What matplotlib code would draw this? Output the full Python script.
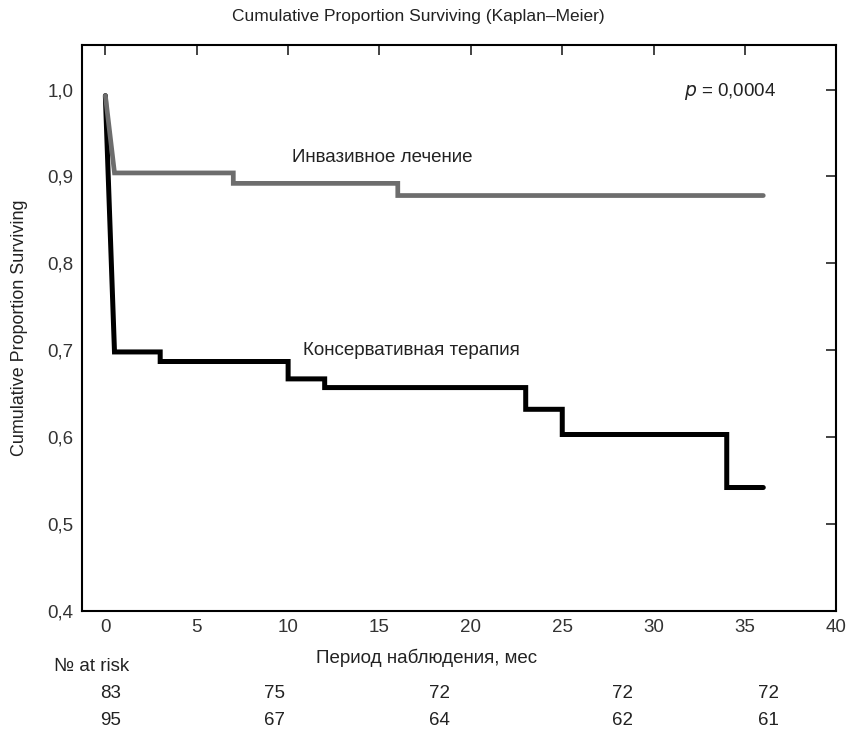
import numpy as np
import matplotlib.pyplot as plt
from matplotlib.ticker import FuncFormatter

plt.rcParams['font.family'] = ['Liberation Sans', 'DejaVu Sans']

# Kaplan-Meier curves (event times, survival after the event)
inv_times = [0, 0.5, 7, 16, 36]
inv_surv = [0.993, 0.904, 0.892, 0.878, 0.878]
cons_times = [0, 0.5, 3, 10, 12, 23, 25, 34, 36]
cons_surv = [0.993, 0.698, 0.687, 0.667, 0.657, 0.632, 0.603, 0.542, 0.542]

# number at risk
risk_times = [0, 9, 18, 28, 36]
risk_inv = [83, 75, 72, 72, 72]
risk_cons = [95, 67, 64, 62, 61]


def km_path(times, surv):
    xs = [times[0], times[1]]
    ys = [surv[0], surv[1]]
    for i in range(2, len(times)):
        xs += [times[i], times[i]]
        ys += [surv[i-1], surv[i]]
    return xs, ys


fig = plt.figure(figsize=(8.5, 7.29), dpi=100)
ax = fig.add_axes([0.096, 0.162, 0.888, 0.776])

x, y = km_path(cons_times, cons_surv)
ax.plot(x, y, color='black', linewidth=3.6, solid_capstyle='round', solid_joinstyle='miter')
x, y = km_path(inv_times, inv_surv)
ax.plot(x, y, color='#6d6d6d', linewidth=3.4, solid_capstyle='round', solid_joinstyle='miter')

ax.set_xlim(-1.3, 40)
ax.set_ylim(0.4, 1.051)
ax.set_xticks(np.arange(0, 41, 5))
ax.set_yticks(np.arange(0.4, 1.01, 0.1))
ax.yaxis.set_major_formatter(FuncFormatter(lambda v, p: f'{v:.1f}'.replace('.', ',')))
ax.tick_params(top=True, right=True, bottom=False, left=False, direction='in',
               length=7, width=1.2, labelsize=13.5, colors='#222222', labelcolor='#333333', pad=6)
for s in ax.spines.values():
    s.set_linewidth(1.5)

fs = 13.5
ax.text(10.2, 0.922, 'Инвазивное лечение', fontsize=fs, color='#222222', va='center')
ax.text(10.8, 0.700, 'Консервативная терапия', fontsize=fs, color='#222222', va='center')
ax.text(36.7, 0.998, '$p$ = 0,0004', fontsize=fs, color='#222222', ha='right', va='center')

fig.text(0.492, 0.978, 'Cumulative Proportion Surviving (Kaplan\u2013Meier)', fontsize=12.5,
         ha='center', va='center', color='#222222')
ax.set_ylabel('Cumulative Proportion Surviving', fontsize=12.9, color='#222222', labelpad=14)
fig.text(0.502, 0.097, 'Период наблюдения, мес', fontsize=fs, ha='center', va='center', color='#222222')
fig.text(0.064, 0.0855, '№ at risk', fontsize=fs, ha='left', va='center', color='#222222')

for t, a, b in zip(risk_times, risk_inv, risk_cons):
    xf = ax.transData.transform((t, 0))[0] / fig.bbox.width
    fig.text(xf + 0.006, 0.049, str(a), fontsize=fs, ha='center', va='center', color='#222222')
    fig.text(xf + 0.006, 0.011, str(b), fontsize=fs, ha='center', va='center', color='#222222')

fig.savefig('out.png', dpi=100)
